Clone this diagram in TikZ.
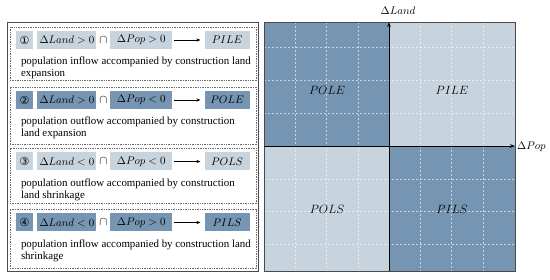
\documentclass[tikz,border=0pt]{standalone}
\usepackage{fontspec}
\setmainfont{Liberation Serif}
\newfontfamily\symfont{DejaVu Sans}
\usepackage{xcolor}
\usetikzlibrary{arrows.meta,positioning}
\definecolor{quaddark}{HTML}{7595B3}
\definecolor{quadlight}{HTML}{C8D4DD}
\definecolor{framegray}{HTML}{4A4A4A}
\definecolor{dashgray}{HTML}{6A6A6A}
\tikzset{
  rowframe/.style={draw=dashgray, line width=0.6pt, dash pattern=on 1.4pt off 1pt, minimum width=246pt, inner sep=0pt},
  cell/.style={minimum height=18pt, inner sep=0pt, font=\fontsize{10.5}{12}\selectfont},
  lightcell/.style={cell, fill=quadlight},
  darkcell/.style={cell, fill=quaddark},
  capsym/.style={inner sep=1.5pt, font=\fontsize{12}{12}\selectfont},
  desc/.style={align=left, inner sep=0pt, font=\fontsize{10.9}{12.2}\selectfont},
  arrow/.style={-{Stealth[length=4pt, width=3.2pt]}, line width=0.7pt, draw=black},
  axis/.style={-{Stealth[length=5pt, width=3.6pt]}, line width=0.8pt, draw=black},
  gridline/.style={draw=white, line width=0.5pt, dash pattern=on 2pt off 2pt, opacity=0.6},
  quadlabel/.style={font=\fontsize{11.5}{13}\selectfont}
}

\begin{document}
\begin{tikzpicture}[x=1pt, y=-1pt]
  \useasboundingbox (0,0) rectangle (550,280);

  % left panel
  \draw[framegray, line width=0.9pt] (7,22) rectangle (258,271);

  \node[rowframe, minimum height=53pt] (f1) at (133,53.5) {};
  \node[lightcell, minimum width=17pt] (n1) at (24.5,40) {\symfont\fontsize{11}{11}\selectfont ①};
  \node[lightcell, minimum width=59pt, right=4pt of n1] (l1) {$\Delta Land > 0$};
  \node[capsym, right=1pt of l1] (c1) {$\cap$};
  \node[lightcell, minimum width=62pt, right=1pt of c1] (p1) {$\Delta Pop > 0$};
  \node[lightcell, minimum width=45pt, right=32pt of p1] (r1) {$PILE$};
  \draw[arrow, shorten <=2pt, shorten >=4pt] (p1) -- (r1);
  \node[desc, below right=7.5pt and 5pt of n1.south west] (t1) {population inflow accompanied by construction land\\expansion};

  \node[rowframe, minimum height=57pt] (f2) at (133,115.5) {};
  \node[darkcell, minimum width=17pt] (n2) at (24.5,100) {\symfont\fontsize{11}{11}\selectfont ②};
  \node[darkcell, minimum width=59pt, right=4pt of n2] (l2) {$\Delta Land > 0$};
  \node[capsym, right=1pt of l2] (c2) {$\cap$};
  \node[darkcell, minimum width=62pt, right=1pt of c2] (p2) {$\Delta Pop < 0$};
  \node[darkcell, minimum width=45pt, right=32pt of p2] (r2) {$POLE$};
  \draw[arrow, shorten <=2pt, shorten >=4pt] (p2) -- (r2);
  \node[desc, below right=7.5pt and 5pt of n2.south west] (t2) {population outflow accompanied by construction\\land expansion};

  \node[rowframe, minimum height=55pt] (f3) at (133,175.5) {};
  \node[lightcell, minimum width=17pt] (n3) at (24.5,161.5) {\symfont\fontsize{11}{11}\selectfont ③};
  \node[lightcell, minimum width=59pt, right=4pt of n3] (l3) {$\Delta Land < 0$};
  \node[capsym, right=1pt of l3] (c3) {$\cap$};
  \node[lightcell, minimum width=62pt, right=1pt of c3] (p3) {$\Delta Pop < 0$};
  \node[lightcell, minimum width=45pt, right=32pt of p3] (r3) {$POLS$};
  \draw[arrow, shorten <=2pt, shorten >=4pt] (p3) -- (r3);
  \node[desc, below right=7.5pt and 5pt of n3.south west] (t3) {population outflow accompanied by construction\\land shrinkage};

  \node[rowframe, minimum height=59pt] (f4) at (133,238.5) {};
  \node[darkcell, minimum width=17pt] (n4) at (24.5,222.5) {\symfont\fontsize{11}{11}\selectfont ④};
  \node[darkcell, minimum width=59pt, right=4pt of n4] (l4) {$\Delta Land < 0$};
  \node[capsym, right=1pt of l4] (c4) {$\cap$};
  \node[darkcell, minimum width=62pt, right=1pt of c4] (p4) {$\Delta Pop > 0$};
  \node[darkcell, minimum width=45pt, right=32pt of p4] (r4) {$PILS$};
  \draw[arrow, shorten <=2pt, shorten >=4pt] (p4) -- (r4);
  \node[desc, below right=7.5pt and 5pt of n4.south west] (t4) {population inflow accompanied by construction land\\shrinkage};

  % right panel: quadrants
  \fill[quaddark] (264,22) rectangle (389,146);
  \fill[quadlight] (389,22) rectangle (515,146);
  \fill[quadlight] (264,146) rectangle (389,271);
  \fill[quaddark] (389,146) rectangle (515,271);
  \foreach \k in {-3,-2,-1,1,2,3} {
    \draw[gridline] (389+31.25*\k,22) -- (389+31.25*\k,271);
    \draw[gridline] (264,146+32.8*\k) -- (515,146+32.8*\k);
  }
  \draw[framegray, line width=0.9pt] (264,22) rectangle (515,271);

  \node[quadlabel] (pole) at (327,90) {$POLE$};
  \node[quadlabel] (pile) at (452,90) {$PILE$};
  \node[quadlabel] (pols) at (327,209) {$POLS$};
  \node[quadlabel] (pils) at (452,209) {$PILS$};

  \coordinate (ybot) at (389,271);
  \coordinate (ytop) at (389,22);
  \coordinate (xleft) at (264,146);
  \coordinate (xright) at (515,146);
  \draw[axis] (ybot) -- (ytop);
  \draw[axis] (xleft) -- (xright);
  \node[font=\fontsize{10.5}{12}\selectfont] (landlabel) at (398,11) {$\Delta Land$};
  \node[font=\fontsize{10.5}{12}\selectfont, anchor=west, inner sep=1pt] (poplabel) at (516,147) {$\Delta Pop$};
\end{tikzpicture}
\end{document}
